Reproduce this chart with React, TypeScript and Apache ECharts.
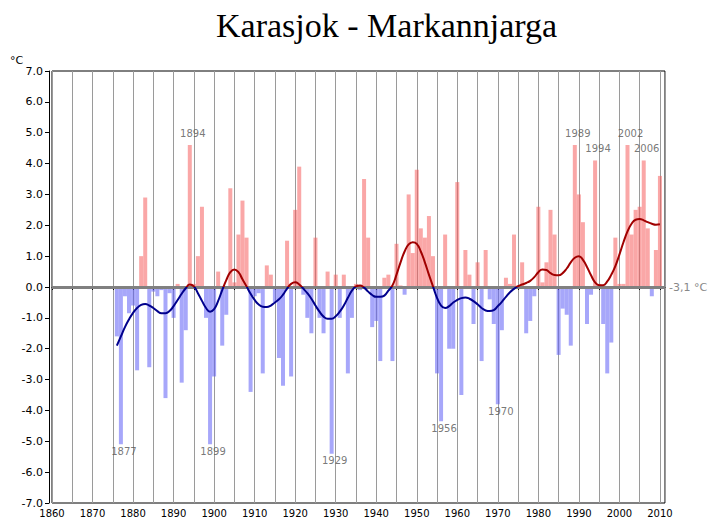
import React, { useEffect, useRef } from 'react';
import * as echarts from 'echarts';

const TITLE = 'Karasjok - Markannjarga';
const UNIT = '°C';
const BASELINE_LABEL = '-3,1 °C';
const FIRST_YEAR = 1876;

// yearly deviation from the normal (°C), 1876 .. 2010
const anomalies = [
  -1.6, -5.1, -0.3, -0.85,
  -0.6, -2.7, 1.0, 2.9, -2.6, -0.15, -0.3, -0.1, -3.6, -0.2,
  -1.0, 0.1, -3.1, -1.4, 4.6, 0.1, 1.0, 2.6, -1.0, -5.1,
  -2.9, 0.5, -1.9, -0.9, 3.2, 0.15, 1.7, 2.8, 1.6, -3.4,
  -0.3, -0.2, -2.8, 0.7, 0.4, -0.5, -2.3, -3.2, 1.5, -2.9,
  2.5, 3.9, -0.25, -1.0, -1.5, 1.6, -1.0, -1.5, 0.5, -5.4,
  0.4, -1.0, 0.4, -2.8, -1.0, 0.1, -0.1, 3.5, 1.6, -1.3,
  -1.1, -2.4, 0.3, 0.4, -2.4, 1.4, 0.05, -0.25, 3.0, 1.1,
  3.8, 1.9, 1.6, 2.3, 1.0, -2.8, -4.35, 1.7, -2.0, -2.0,
  3.4, -3.5, 1.2, 0.4, -1.2, 0.8, -2.4, 1.2, -0.4, -1.2,
  -3.8, -1.4, 0.3, 0.1, 1.7, 0.05, 0.8, -1.5, -1.1, -0.3,
  2.6, 0.15, 0.8, 2.5, 1.7, -2.2, -0.7, -0.9, -1.9, 4.6,
  3.0, 2.1, -1.2, -0.25, 4.1, 0.1, -1.2, -2.8, -1.8, 1.6,
  0.1, 0.1, 4.6, 1.7, 2.5, 2.6, 4.1, 1.9, -0.3, 1.2,
  3.6,
];

// smoothed curve, 1876 .. 2010
const smoothed = [
  -1.9, -1.6, -1.3, -1.05,
  -0.84, -0.68, -0.58, -0.55, -0.6, -0.68, -0.78, -0.85, -0.85, -0.78,
  -0.62, -0.42, -0.22, -0.04, 0.08, 0.02, -0.2, -0.45, -0.68, -0.8,
  -0.72, -0.45, -0.1, 0.22, 0.48, 0.57, 0.48, 0.25, 0.02, -0.22,
  -0.42, -0.57, -0.64, -0.65, -0.6, -0.5, -0.4, -0.25, -0.05, 0.1,
  0.15, 0.08, -0.05, -0.2, -0.38, -0.6, -0.8, -0.96, -1.03, -1.03,
  -0.95, -0.8, -0.6, -0.35, -0.12, 0.02, 0.05, -0.02, -0.15, -0.26,
  -0.32, -0.32, -0.28, -0.12, 0.05, 0.4, 0.8, 1.15, 1.38, 1.45,
  1.4, 1.15, 0.8, 0.4, 0.02, -0.35, -0.6, -0.68, -0.62, -0.5,
  -0.42, -0.36, -0.34, -0.38, -0.46, -0.56, -0.68, -0.76, -0.78, -0.75,
  -0.62, -0.48, -0.32, -0.17, -0.06, 0.03, 0.08, 0.13, 0.2, 0.32,
  0.48, 0.57, 0.55, 0.45, 0.39, 0.38, 0.45, 0.6, 0.8, 0.95,
  1.0, 0.88, 0.65, 0.38, 0.15, 0.06, 0.06, 0.18, 0.4, 0.68,
  1.05, 1.45, 1.8, 2.05, 2.18, 2.2, 2.16, 2.1, 2.05, 2.02,
  2.03,
];

const labelledYears = [1877, 1894, 1899, 1929, 1956, 1970, 1989, 1994, 2002, 2006];

const RED_BAR = 'rgba(245,95,95,0.55)';
const BLUE_BAR = 'rgba(95,95,245,0.55)';
const RED_LINE = '#a00000';
const BLUE_LINE = '#00008c';

export default function App() {
  const ref = useRef<HTMLDivElement>(null);
  useEffect(() => {
    const chart = echarts.init(ref.current as HTMLDivElement, null, { renderer: 'svg' });
    const years = anomalies.map((_, i) => FIRST_YEAR + i);
    const barData = anomalies.map((v, i) => ({
      value: [years[i], v],
      itemStyle: { color: v >= 0 ? RED_BAR : BLUE_BAR },
    }));
    const lineData = smoothed.map((v, i) => [years[i], v]);
    const labelData = labelledYears.map((y) => {
      const v = anomalies[y - FIRST_YEAR];
      return {
        value: [y, v],
        label: v >= 0 ? { position: 'top', distance: 7 } : { position: 'bottom', distance: 2 },
      };
    });
    const font = 'DejaVu Sans';
    chart.setOption({
      animation: false,
      backgroundColor: '#fff',
      title: {
        text: TITLE,
        left: 211,
        top: 3,
        textStyle: { fontFamily: 'Liberation Serif', fontSize: 34, fontWeight: 'normal', color: '#000' },
      },
      graphic: [
        { type: 'text', left: 10, top: 55, style: { text: UNIT, fontSize: 11, fontFamily: font, fill: '#000' } },
      ],
      grid: { left: 52, right: 44, top: 71, bottom: 17, show: true, borderColor: '#000', borderWidth: 1 },
      xAxis: {
        type: 'value',
        min: 1860,
        max: 2011.25,
        interval: 5,
        axisLine: { show: true, lineStyle: { color: '#000' } },
        axisTick: { show: true, length: 3, lineStyle: { color: '#000' } },
        axisLabel: {
          formatter: (v: number) => (v % 10 === 0 ? String(v) : ''),
          fontSize: 10,
          fontFamily: font,
          color: '#000',
          margin: 5,
          showMaxLabel: false,
        },
        splitLine: { show: true, lineStyle: { color: '#9a9a9a', width: 1 } },
      },
      yAxis: {
        type: 'value',
        min: -7,
        max: 7,
        interval: 1,
        offset: 3,
        axisLine: { show: true, lineStyle: { color: '#000' } },
        axisTick: { show: true, length: 4, lineStyle: { color: '#000' } },
        axisLabel: {
          formatter: (v: number) => v.toFixed(1),
          fontSize: 11,
          fontFamily: font,
          color: '#000',
          margin: 6,
        },
        splitLine: { show: false },
      },
      visualMap: {
        type: 'piecewise',
        show: false,
        seriesIndex: 1,
        dimension: 1,
        pieces: [
          { min: -7, max: 0, color: BLUE_LINE },
          { min: 0, max: 7, color: RED_LINE },
        ],
      },
      series: [
        {
          type: 'bar',
          data: barData,
          barWidth: 4,
          z: 2,
        },
        {
          type: 'line',
          data: lineData,
          smooth: true,
          showSymbol: false,
          lineStyle: { width: 2 },
          z: 5,
          markLine: {
            silent: true,
            symbol: 'none',
            data: [{ yAxis: 0 }],
            lineStyle: { color: '#808080', width: 3, type: 'solid' },
            label: { show: true, position: 'end', formatter: BASELINE_LABEL, color: '#888', fontSize: 11, fontFamily: font, distance: 4 },
            z: 3,
          },
        },
        {
          type: 'scatter',
          data: labelData,
          symbolSize: 0,
          z: 6,
          label: {
            show: true,
            formatter: (p: any) => String(p.value[0]),
            fontSize: 10,
            fontFamily: font,
            color: '#555',
            offset: [3, 0],
          },
        },
      ],
    });
    return () => chart.dispose();
  }, []);
  return (
    <div
      ref={ref}
      style={{ position: 'fixed', left: 0, top: 0, width: 709, height: 520, background: '#fff' }}
    />
  );
}
